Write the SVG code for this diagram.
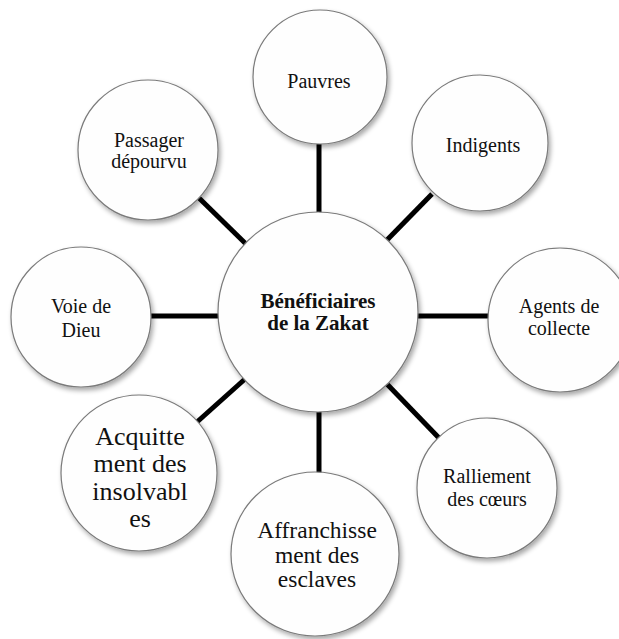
<svg xmlns="http://www.w3.org/2000/svg" width="619" height="639" viewBox="0 0 619 639">
  <defs>
    <filter id="sh" x="-20%" y="-20%" width="150%" height="150%">
      <feGaussianBlur in="SourceAlpha" stdDeviation="2.5"/>
      <feOffset dx="2" dy="3" result="b"/>
      <feComponentTransfer><feFuncA type="linear" slope="0.35"/></feComponentTransfer>
      <feMerge><feMergeNode/><feMergeNode in="SourceGraphic"/></feMerge>
    </filter>
  </defs>
  <style>
    .n { fill: #fefefe; stroke: #7a7a7a; stroke-width: 1.2; filter: url(#sh); }
    .c line { stroke: #000; stroke-width: 5; }
    text { font-family: "Liberation Serif", "Times New Roman", serif; fill: #111; text-anchor: middle; }
    .s { font-size: 20px; }
    .b { font-size: 21px; font-weight: bold; }
    .l1 { font-size: 26px; }
    .l2 { font-size: 23.5px; }
  </style>
  <rect width="619" height="639" fill="#fff"/>
  <g class="c" id="connectors">
    <line x1="319" y1="144" x2="319" y2="213"/>
    <line x1="386" y1="241" x2="432" y2="194"/>
    <line x1="416" y1="316" x2="489" y2="316"/>
    <line x1="386" y1="383" x2="439" y2="438"/>
    <line x1="319" y1="410" x2="319" y2="473"/>
    <line x1="245" y1="379" x2="197" y2="422"/>
    <line x1="150" y1="316" x2="220" y2="316"/>
    <line x1="246" y1="244" x2="199" y2="198"/>
  </g>
  <g id="center">
    <circle class="n" cx="318" cy="312" r="100"/>
    <text class="b" x="318" y="308">Bénéficiaires</text>
    <text class="b" x="318" y="330">de la Zakat</text>
  </g>
  <g id="pauvres">
    <circle class="n" cx="320" cy="77" r="67"/>
    <text class="s" x="319" y="88">Pauvres</text>
  </g>
  <g id="indigents">
    <circle class="n" cx="480" cy="143" r="68"/>
    <text class="s" x="483" y="152">Indigents</text>
  </g>
  <g id="agents">
    <circle class="n" cx="560" cy="320" r="72"/>
    <text class="s" x="559" y="313">Agents de</text>
    <text class="s" x="559" y="335">collecte</text>
  </g>
  <g id="ralliement">
    <circle class="n" cx="487" cy="488" r="70"/>
    <text class="s" x="487" y="483">Ralliement</text>
    <text class="s" x="487" y="506">des cœurs</text>
  </g>
  <g id="affranchissement">
    <ellipse class="n" cx="315" cy="554" rx="84" ry="82"/>
    <text class="l2" x="317" y="538">Affranchisse</text>
    <text class="l2" x="317" y="563">ment des</text>
    <text class="l2" x="317" y="587">esclaves</text>
  </g>
  <g id="acquittement">
    <circle class="n" cx="139" cy="473" r="78"/>
    <text class="l1" x="140" y="445">Acquitte</text>
    <text class="l1" x="140" y="472">ment des</text>
    <text class="l1" x="140" y="500">insolvabl</text>
    <text class="l1" x="140" y="527">es</text>
  </g>
  <g id="voie">
    <circle class="n" cx="81" cy="317" r="70"/>
    <text class="s" x="81" y="313">Voie de</text>
    <text class="s" x="81" y="337">Dieu</text>
  </g>
  <g id="passager">
    <circle class="n" cx="148" cy="150" r="70"/>
    <text class="s" x="149" y="147">Passager</text>
    <text class="s" x="149" y="168">dépourvu</text>
  </g>
</svg>
